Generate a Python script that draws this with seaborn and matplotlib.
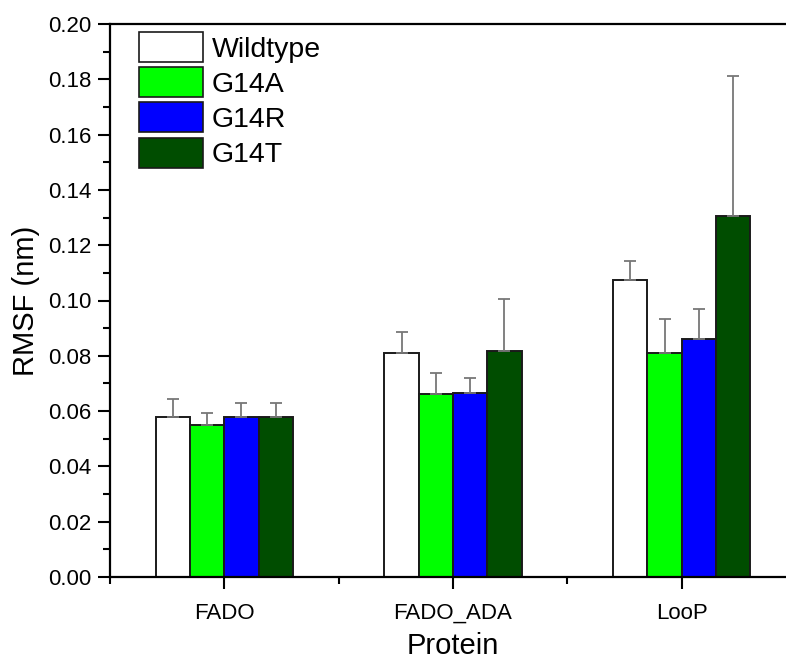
import matplotlib
matplotlib.use("Agg")
import matplotlib.pyplot as plt
from matplotlib.patches import Patch
from matplotlib.ticker import MultipleLocator, FixedLocator, FormatStrFormatter
import seaborn as sns
import pandas as pd

# Mean RMSF (nm) per protein region and variant, with standard deviations
proteins = ["FADO", "FADO_ADA", "LooP"]
variants = ["Wildtype", "G14A", "G14R", "G14T"]
rmsf_wildtype = [0.0578, 0.0811, 0.1074]
rmsf_g14a = [0.0550, 0.0661, 0.0809]
rmsf_g14r = [0.0578, 0.0665, 0.0860]
rmsf_g14t = [0.0578, 0.0816, 0.1306]
sd_wildtype = [0.0066, 0.0076, 0.0070]
sd_g14a = [0.0042, 0.0076, 0.0123]
sd_g14r = [0.0050, 0.0056, 0.0108]
sd_g14t = [0.0050, 0.0189, 0.0506]

colors = ["#ffffff", "#00ff00", "#0000ff", "#004d00"]

means = [rmsf_wildtype, rmsf_g14a, rmsf_g14r, rmsf_g14t]
sds = [sd_wildtype, sd_g14a, sd_g14r, sd_g14t]

df = pd.DataFrame(
    [(p, v, m) for v, vals in zip(variants, means) for p, m in zip(proteins, vals)],
    columns=["Protein", "Variant", "RMSF"],
)

sns.set_style("ticks")
plt.rcParams["font.family"] = ["Liberation Sans", "DejaVu Sans"]
plt.rcParams["text.color"] = "black"
plt.rcParams["axes.labelcolor"] = "black"
plt.rcParams["xtick.color"] = "black"
plt.rcParams["ytick.color"] = "black"

fig = plt.figure(figsize=(7.86, 6.63), dpi=100)
ax = fig.add_axes([110 / 786, 86 / 663, 686 / 786, 553 / 663])

sns.barplot(
    data=df, x="Protein", y="RMSF", hue="Variant",
    order=proteins, hue_order=variants, palette=colors,
    width=0.6, errorbar=None, edgecolor="#1a1a1a", linewidth=1.4,
    saturation=1, legend=False, ax=ax,
)

# One-sided (upper) error bars on each bar
for container, sd in zip(ax.containers, sds):
    for bar, err in zip(container.patches, sd):
        xc = bar.get_x() + bar.get_width() / 2
        h = bar.get_height()
        ax.errorbar(xc, h, yerr=[[0], [err]], fmt="none", ecolor="#777777",
                    elinewidth=1.3, capsize=4, capthick=1.3, zorder=1)

ax.set_xlim(-0.5, 2.5)
ax.set_ylim(0, 0.20)
ax.yaxis.set_major_locator(MultipleLocator(0.02))
ax.yaxis.set_minor_locator(MultipleLocator(0.01))
ax.yaxis.set_major_formatter(FormatStrFormatter("%.2f"))
ax.xaxis.set_minor_locator(FixedLocator([-0.5, 0.5, 1.5, 2.5]))

ax.tick_params(axis="both", which="major", direction="out", length=8.5,
               width=1.5, labelsize=16, pad=5, colors="black")
ax.tick_params(axis="y", which="minor", direction="out", length=5, width=1.5)
ax.tick_params(axis="x", which="minor", direction="out", length=5, width=1.5)
ax.tick_params(axis="x", which="major", pad=10)

for side in ["left", "bottom", "top", "right"]:
    ax.spines[side].set_visible(True)
    ax.spines[side].set_linewidth(1.6)
    ax.spines[side].set_color("black")

ax.set_xlabel("Protein", fontsize=21, labelpad=6)
ax.set_ylabel("RMSF (nm)", fontsize=21, labelpad=6)

handles = [Patch(facecolor=c, edgecolor="#1a1a1a", linewidth=1.2) for c in colors]
ax.legend(
    handles, variants, loc="upper left",
    bbox_to_anchor=((139 - 110) / 686, 1 - (32 - 24) / 553),
    frameon=False, fontsize=20.5, borderpad=0, borderaxespad=0,
    handlelength=2.25, handleheight=1.25, handletextpad=0.3,
    labelspacing=0.16,
)

fig.savefig("out.png", dpi=100)
